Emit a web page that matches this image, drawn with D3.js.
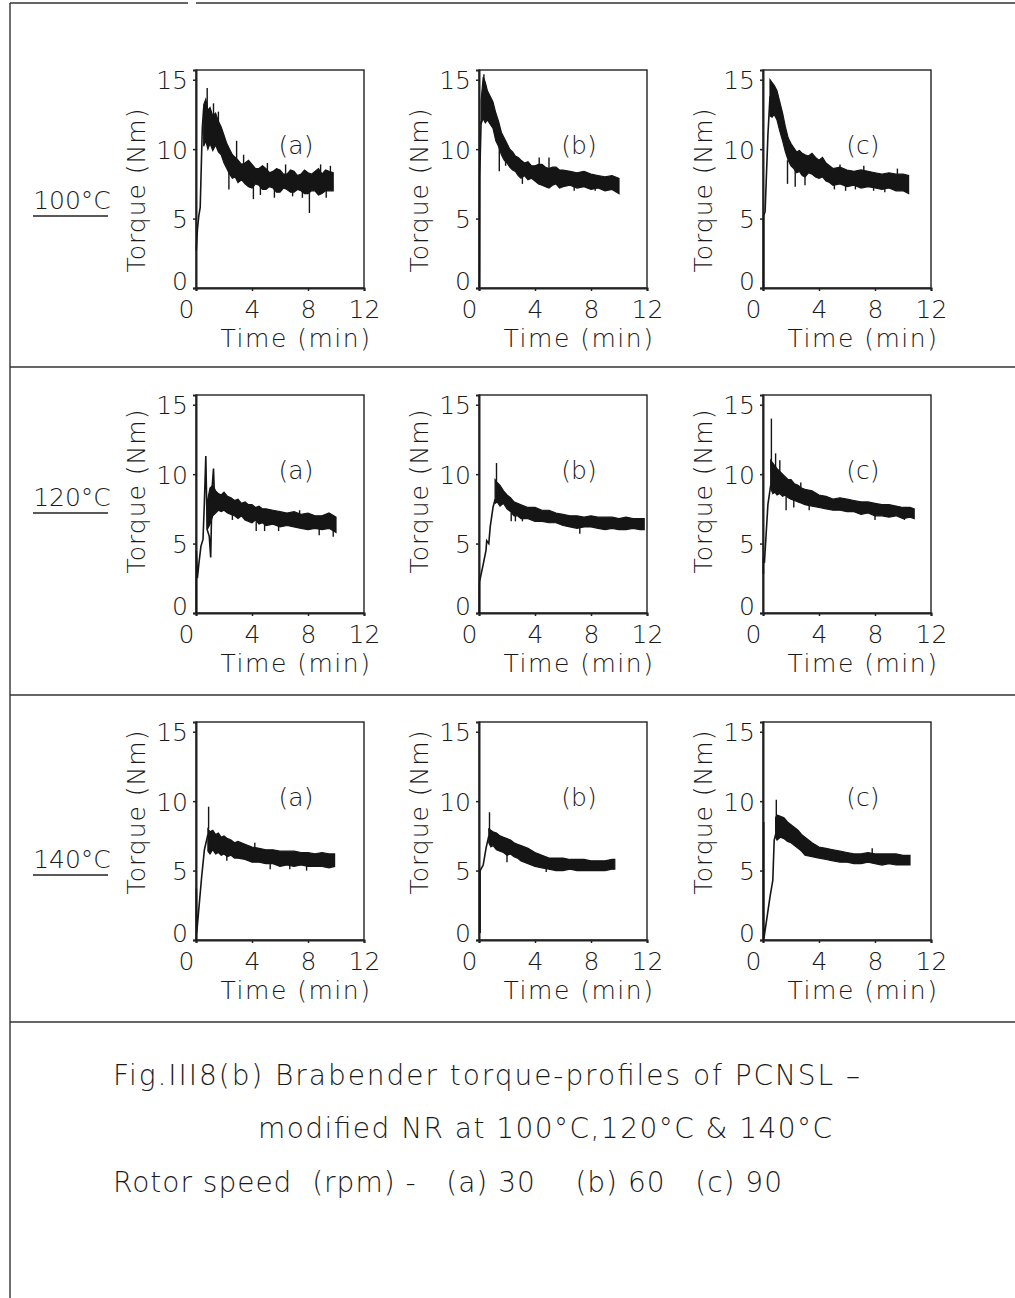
<!DOCTYPE html>
<html>
<head>
  <script src="https://d3js.org/d3.v7.min.js"></script>
  <style>
    body { margin: 0; background: #fff; }
    svg text {
      font-family: "DejaVu Sans", sans-serif;
      font-weight: 200;
      fill: #1a1a1a;
    }
    .frame { fill: none; stroke: #222; stroke-width: 1.4; }
    .band { fill: #151515; stroke: #151515; stroke-width: 1.2; stroke-linejoin: miter; }
    .trace { fill: none; stroke: #151515; stroke-width: 1.6; }
    .spike { stroke: #151515; stroke-width: 1.4; }
    .rule { stroke: #333; stroke-width: 1.4; }
  </style>
</head>
<body>
  <div id="chart"></div>
  <script>
    // ---- data ----
    var temps = ["100°C", "120°C", "140°C"];
    var speeds = ["(a)", "(b)", "(c)"];
    var xTicks = [0, 4, 8, 12];
    var yTicks = [0, 5, 10, 15];
    var xTitle = "Time (min)";
    var yTitle = "Torque (Nm)";
    var caption = [
      "Fig.III8(b) Brabender torque-profiles of PCNSL \u2013",
      "modified NR at 100°C,120°C & 140°C",
      "Rotor speed  (rpm) -   (a) 30    (b) 60   (c) 90"
    ];

    // 100 °C
    var rise100a = [[0.02, 2.7], [0.1, 4.2], [0.2, 5.2], [0.3, 5.8], [0.45, 11.5], [0.55, 13.0]];
    var t100a  = [0.55, 0.7, 0.85, 1.0, 1.2, 1.4, 1.6, 1.8, 2.0, 2.2, 2.4, 2.6, 2.8, 3.0, 3.25, 3.5, 3.75, 4.0, 4.25, 4.5, 4.75, 5.0, 5.25, 5.5, 5.75, 6.0, 6.25, 6.5, 6.75, 7.0, 7.25, 7.5, 7.75, 8.0, 8.25, 8.5, 8.75, 9.0, 9.25, 9.5, 9.8];
    var lo100a = [10.2, 10.6, 10.0, 10.4, 9.9, 10.3, 9.8, 9.6, 9.0, 8.6, 8.2, 7.9, 8.0, 7.6, 7.8, 7.5, 7.3, 7.2, 7.5, 7.4, 7.1, 7.1, 7.3, 7.2, 6.9, 6.9, 7.2, 7.1, 6.9, 6.9, 7.1, 7.0, 6.8, 6.8, 7.0, 7.0, 6.7, 6.8, 7.0, 7.0, 7.0];
    var hi100a = [13.2, 13.6, 12.8, 13.0, 12.4, 12.6, 12.0, 11.6, 11.0, 10.4, 10.0, 9.6, 9.4, 9.2, 8.9, 9.0, 9.2, 8.9, 8.6, 8.6, 8.8, 8.6, 8.3, 8.4, 8.6, 8.5, 8.2, 8.2, 8.5, 8.4, 8.1, 8.2, 8.5, 8.3, 8.2, 8.4, 8.6, 8.2, 8.5, 8.4, 8.3];
    var spk100a = [[0.8, 13, 14.4], [1.25, 12, 13.3], [1.6, 11, 12.7], [2.35, 8.5, 7.1], [2.9, 9, 10.6], [3.4, 8.5, 9.6], [4.1, 7.5, 6.4], [4.6, 7.5, 6.7], [5.1, 8, 9.0], [5.6, 7.5, 6.5], [6.4, 8, 8.9], [6.9, 7.4, 6.6], [7.6, 7.2, 6.5], [8.1, 7.2, 5.4], [8.9, 8, 8.9], [9.3, 7.2, 6.5], [9.6, 8, 8.8]];

    var rise100b = [[0.03, 0], [0.05, 8.0], [0.15, 12.0]];
    var t100b  = [0.15, 0.3, 0.45, 0.6, 0.8, 1.0, 1.2, 1.4, 1.6, 1.8, 2.0, 2.2, 2.4, 2.6, 2.8, 3.0, 3.25, 3.5, 3.75, 4.0, 4.25, 4.5, 4.75, 5.0, 5.25, 5.5, 5.75, 6.0, 6.5, 7.0, 7.5, 8.0, 8.5, 9.0, 9.5, 10.0];
    var lo100b = [11.8, 12.2, 11.9, 12.1, 11.8, 11.5, 10.6, 10.2, 9.6, 9.2, 9.0, 8.7, 8.5, 8.4, 8.1, 7.9, 8.1, 7.8, 7.9, 7.7, 7.5, 7.4, 7.3, 7.2, 7.4, 7.5, 7.2, 7.3, 7.4, 7.2, 7.3, 7.1, 7.2, 7.0, 7.1, 6.8];
    var hi100b = [13.5, 15.2, 14.8, 14.2, 13.8, 13.4, 12.6, 12.0, 11.2, 10.8, 10.4, 10.0, 9.8, 9.5, 9.4, 9.2, 9.0, 9.1, 8.8, 8.8, 8.9, 8.9, 8.7, 8.6, 8.7, 8.7, 8.5, 8.5, 8.4, 8.3, 8.4, 8.2, 8.1, 8.0, 8.1, 7.9];
    var spk100b = [[0.35, 14, 15.4], [1.45, 10.5, 8.4], [1.9, 10, 8.8], [3.1, 8.3, 7.5], [4.3, 8.5, 9.4], [5.0, 8.4, 9.4], [6.8, 7.6, 7.0], [8.3, 7.6, 7.0]];

    var rise100c = [[0.05, 0], [0.05, 5.2], [0.15, 5.5], [0.35, 11.0], [0.5, 13.8]];
    var t100c  = [0.5, 0.65, 0.8, 1.0, 1.2, 1.4, 1.6, 1.8, 2.0, 2.2, 2.4, 2.6, 2.8, 3.0, 3.25, 3.5, 3.75, 4.0, 4.25, 4.5, 4.75, 5.0, 5.5, 6.0, 6.5, 7.0, 7.5, 8.0, 8.5, 9.0, 9.5, 10.0, 10.4];
    var lo100c = [12.4, 12.3, 12.5, 12.1, 11.3, 10.6, 9.8, 9.2, 8.8, 8.6, 8.3, 8.4, 8.1, 8.0, 8.3, 8.2, 8.0, 7.9, 8.0, 7.7, 7.6, 7.4, 7.5, 7.3, 7.4, 7.2, 7.3, 7.2, 7.1, 7.2, 7.0, 7.0, 6.8];
    var hi100c = [15.0, 14.8, 14.6, 14.2, 13.4, 12.6, 11.6, 10.8, 10.4, 10.1, 9.8, 9.9, 9.7, 9.6, 9.5, 9.7, 9.4, 9.2, 9.4, 9.0, 8.8, 8.6, 8.7, 8.5, 8.4, 8.5, 8.4, 8.3, 8.2, 8.3, 8.2, 8.2, 8.1];
    var spk100c = [[1.75, 9.2, 7.5], [2.3, 8.6, 7.3], [3.0, 8, 7.4], [5.1, 7.5, 7.1], [5.5, 8.4, 8.9], [5.9, 7.4, 7.0], [6.6, 7.4, 7.1], [7.2, 8.3, 8.8], [7.9, 7.3, 7.0], [8.7, 7.2, 6.9], [9.6, 8.1, 8.6]];

    // 120 °C
    var rise120a = [[0.03, 0], [0.03, 4.5], [0.1, 2.5], [0.2, 3.5], [0.35, 4.8], [0.5, 5.3], [0.6, 8.0], [0.7, 11.3], [0.8, 6.0], [0.95, 5.5], [1.05, 4.0], [1.15, 9.0], [1.25, 10.4], [1.35, 7.5]];
    var t120a  = [0.8, 1.0, 1.2, 1.4, 1.6, 1.8, 2.0, 2.25, 2.5, 2.75, 3.0, 3.25, 3.5, 3.75, 4.0, 4.25, 4.5, 4.75, 5.0, 5.5, 6.0, 6.5, 7.0, 7.5, 8.0, 8.5, 9.0, 9.5, 10.0];
    var lo120a = [6.0, 6.4, 7.0, 7.2, 7.4, 7.3, 7.4, 7.2, 7.1, 7.0, 6.8, 7.0, 6.7, 6.6, 6.5, 6.7, 6.4, 6.5, 6.3, 6.4, 6.2, 6.3, 6.2, 6.1, 6.0, 6.1, 6.0, 6.1, 5.8];
    var hi120a = [8.0, 9.0, 9.2, 8.8, 8.6, 8.5, 8.7, 8.4, 8.3, 8.1, 8.2, 7.9, 8.0, 7.8, 7.8, 7.6, 7.7, 7.5, 7.5, 7.4, 7.3, 7.2, 7.3, 7.1, 7.2, 7.0, 7.0, 7.2, 6.9];
    var spk120a = [[2.6, 7.2, 6.7], [4.3, 6.6, 5.9], [4.9, 6.5, 5.9], [5.9, 6.4, 5.9], [7.4, 7.0, 7.4], [8.8, 6.2, 5.6], [9.8, 6.0, 5.5]];

    var rise120b = [[0.03, 0], [0.03, 2.2], [0.3, 3.5], [0.5, 4.5], [0.55, 5.2], [0.7, 5.0], [0.8, 6.2], [1.0, 7.6], [1.15, 8.2]];
    var t120b  = [1.15, 1.3, 1.5, 1.75, 2.0, 2.25, 2.5, 2.75, 3.0, 3.5, 4.0, 4.5, 5.0, 5.5, 6.0, 6.5, 7.0, 7.5, 8.0, 8.5, 9.0, 9.5, 10.0, 10.5, 11.0, 11.5, 11.8];
    var lo120b = [7.9, 8.0, 7.7, 7.9, 7.5, 7.3, 7.0, 7.0, 6.8, 6.8, 6.6, 6.6, 6.5, 6.5, 6.3, 6.2, 6.1, 6.2, 6.2, 6.1, 6.0, 6.1, 6.0, 6.0, 6.1, 6.0, 6.0];
    var hi120b = [9.6, 9.4, 9.2, 8.8, 8.5, 8.3, 8.0, 7.9, 7.8, 7.6, 7.6, 7.4, 7.4, 7.2, 7.1, 7.0, 7.0, 6.9, 7.0, 6.9, 6.9, 6.9, 6.8, 6.9, 6.8, 6.8, 6.8];
    var spk120b = [[1.25, 9.5, 10.8], [2.3, 7.2, 6.6], [2.6, 7.0, 6.6], [3.1, 7.0, 6.6], [7.2, 6.2, 5.7]];

    var rise120c = [[0.03, 2.8], [0.03, 4.0], [0.1, 3.6], [0.35, 7.8], [0.55, 9.2]];
    var t120c  = [0.55, 0.7, 0.85, 1.0, 1.2, 1.4, 1.6, 1.8, 2.0, 2.25, 2.5, 2.75, 3.0, 3.5, 4.0, 4.5, 5.0, 5.5, 6.0, 6.5, 7.0, 7.5, 8.0, 8.5, 9.0, 9.5, 10.0, 10.5, 10.8];
    var lo120c = [9.0, 8.6, 8.7, 8.5, 8.6, 8.4, 8.5, 8.3, 8.2, 8.1, 8.0, 7.9, 7.8, 7.7, 7.6, 7.5, 7.4, 7.4, 7.3, 7.3, 7.1, 7.2, 7.0, 7.0, 6.9, 7.0, 6.8, 6.9, 6.8];
    var hi120c = [11.0, 10.8, 10.6, 10.4, 10.2, 10.0, 9.8, 9.6, 9.6, 9.3, 9.2, 9.0, 8.9, 8.8, 8.5, 8.4, 8.2, 8.3, 8.2, 8.1, 8.0, 8.0, 7.9, 7.8, 7.8, 7.7, 7.6, 7.6, 7.5];
    var spk120c = [[0.6, 10, 14.0], [0.9, 10, 11.5], [1.2, 9.8, 11.0], [1.65, 8.5, 7.4], [2.2, 8.3, 7.6], [2.7, 8.9, 9.4], [3.3, 7.9, 7.4], [8.0, 7.1, 6.7], [10.1, 7.0, 6.7]];

    // 140 °C
    var rise140a = [[0.03, 0], [0.03, 3.7], [0.05, 0.5], [0.4, 4.5], [0.6, 6.5], [0.85, 7.6]];
    var t140a  = [0.85, 1.0, 1.2, 1.4, 1.6, 1.8, 2.0, 2.25, 2.5, 2.75, 3.0, 3.5, 4.0, 4.5, 5.0, 5.5, 6.0, 6.5, 7.0, 7.5, 8.0, 8.5, 9.0, 9.5, 9.9];
    var lo140a = [6.4, 6.2, 6.5, 6.2, 6.3, 6.1, 6.2, 6.0, 6.1, 5.9, 5.9, 5.8, 5.6, 5.6, 5.5, 5.5, 5.3, 5.4, 5.3, 5.4, 5.3, 5.3, 5.3, 5.2, 5.3];
    var hi140a = [8.0, 7.8, 7.9, 7.6, 7.7, 7.4, 7.5, 7.3, 7.2, 7.0, 7.1, 6.9, 6.7, 6.6, 6.5, 6.5, 6.4, 6.4, 6.4, 6.3, 6.3, 6.2, 6.3, 6.2, 6.2];
    var spk140a = [[0.9, 8, 9.6], [2.2, 6.4, 5.7], [4.2, 6.6, 7.0], [5.3, 5.6, 5.1], [6.7, 5.5, 5.1], [7.9, 5.4, 5.0]];

    var rise140b = [[0.08, 0.5], [0.08, 5.0], [0.3, 5.4], [0.5, 6.6], [0.7, 7.5]];
    var t140b  = [0.7, 0.85, 1.0, 1.25, 1.5, 1.75, 2.0, 2.25, 2.5, 2.75, 3.0, 3.5, 4.0, 4.5, 5.0, 5.5, 6.0, 6.5, 7.0, 7.5, 8.0, 8.5, 9.0, 9.5, 9.7];
    var lo140b = [7.0, 6.7, 6.8, 6.5, 6.4, 6.3, 6.1, 6.2, 6.0, 5.9, 5.7, 5.5, 5.3, 5.2, 5.1, 5.0, 5.0, 5.1, 5.0, 5.0, 5.0, 5.0, 5.0, 5.1, 5.1];
    var hi140b = [8.0, 7.9, 7.8, 7.7, 7.5, 7.4, 7.3, 7.2, 7.0, 6.9, 6.8, 6.6, 6.3, 6.1, 5.9, 5.9, 5.9, 5.8, 5.8, 5.8, 5.7, 5.7, 5.7, 5.8, 5.8];
    var spk140b = [[0.75, 7.8, 9.2], [2.0, 6.2, 5.6], [4.8, 5.2, 4.9]];

    var rise140c = [[0.05, 8.5], [0.05, 0], [0.5, 3.1], [0.7, 4.3], [0.8, 7.2], [0.9, 7.6]];
    var t140c  = [0.9, 1.0, 1.25, 1.5, 1.75, 2.0, 2.25, 2.5, 2.75, 3.0, 3.5, 4.0, 4.5, 5.0, 5.5, 6.0, 6.5, 7.0, 7.5, 8.0, 8.5, 9.0, 9.5, 10.0, 10.5];
    var lo140c = [7.4, 7.2, 7.4, 7.3, 7.1, 7.0, 6.8, 6.6, 6.4, 6.1, 6.0, 5.9, 5.8, 5.7, 5.6, 5.6, 5.5, 5.5, 5.6, 5.5, 5.4, 5.5, 5.4, 5.4, 5.4];
    var hi140c = [8.8, 9.0, 8.9, 8.8, 8.5, 8.3, 8.1, 7.9, 7.6, 7.4, 7.0, 6.7, 6.6, 6.5, 6.4, 6.3, 6.2, 6.2, 6.3, 6.2, 6.2, 6.2, 6.2, 6.1, 6.1];
    var spk140c = [[0.95, 8.5, 10.1], [7.8, 6.2, 6.6]];

    var panels = [
      [rise100a, t100a, lo100a, hi100a, spk100a],
      [rise100b, t100b, lo100b, hi100b, spk100b],
      [rise100c, t100c, lo100c, hi100c, spk100c],
      [rise120a, t120a, lo120a, hi120a, spk120a],
      [rise120b, t120b, lo120b, hi120b, spk120b],
      [rise120c, t120c, lo120c, hi120c, spk120c],
      [rise140a, t140a, lo140a, hi140a, spk140a],
      [rise140b, t140b, lo140b, hi140b, spk140b],
      [rise140c, t140c, lo140c, hi140c, spk140c]
    ];

    // ---- layout ----
    var W = 1015, H = 1298;
    var colX = [196, 479, 763];
    var rowY = [70, 395, 722];
    var pw = 168, ph = 218;
    var yTitleOff = [120, 96, 90];     // vertical centre of the y title below frame top
    var tempLabelY = [200, 497, 859];
    var ruleY = [367, 695, 1022];

    var svg = d3.select("#chart").append("svg")
      .attr("width", W)
      .attr("height", H);

    // page border lines
    svg.append("line").attr("class", "rule").attr("x1", 10).attr("x2", 188).attr("y1", 3).attr("y2", 3);
    svg.append("line").attr("class", "rule").attr("x1", 196).attr("x2", W).attr("y1", 3).attr("y2", 3);
    svg.append("line").attr("class", "rule").attr("x1", 10).attr("x2", 10).attr("y1", 3).attr("y2", H);
    ruleY.forEach(function(y) {
      svg.append("line").attr("class", "rule").attr("x1", 10).attr("x2", W).attr("y1", y).attr("y2", y);
    });

    // temperature labels, underlined
    temps.forEach(function(t, i) {
      svg.append("text")
        .attr("x", 72).attr("y", tempLabelY[i] + 9)
        .attr("text-anchor", "middle")
        .style("font-size", "25px")
        .text(t);
      svg.append("line")
        .attr("x1", 33).attr("x2", 108)
        .attr("y1", tempLabelY[i] + 16).attr("y2", tempLabelY[i] + 16)
        .attr("stroke", "#222").attr("stroke-width", 1.5);
    });

    panels.forEach(function(p, k) {
      var r = Math.floor(k / 3), c = k % 3;
      var left = colX[c], top = rowY[r];
      var g = svg.append("g");

      var x = d3.scaleLinear().domain([0, 12]).range([left, left + pw]);
      var y = d3.scaleLinear().domain([0, 15.7]).range([top + ph, top]);

      g.append("rect").attr("class", "frame")
        .attr("x", left).attr("y", top).attr("width", pw).attr("height", ph);

      // axes: ticks only, labels styled below
      var yAxis = g.append("g")
        .attr("transform", "translate(" + left + ",0)")
        .call(d3.axisLeft(y).tickValues(yTicks).tickSize(3).tickPadding(5));
      var xAxis = g.append("g")
        .attr("transform", "translate(0," + (top + ph) + ")")
        .call(d3.axisBottom(x).tickValues(xTicks).tickSize(3).tickPadding(9));
      [xAxis, yAxis].forEach(function(a) {
        a.select(".domain").attr("stroke", "#222").attr("stroke-width", 2);
        a.selectAll(".tick line").attr("stroke", "#222").attr("stroke-width", 1.5);
        a.selectAll("text")
          .style("font-size", "25px")
          .style("font-family", "'DejaVu Sans', sans-serif")
          .style("font-weight", 200)
          .attr("fill", "#1a1a1a");
      });
      // the zero label sits a little above its tick, as in the original
      yAxis.selectAll("text")
        .attr("dy", function(d) { return d === 0 ? "0.06em" : "0.36em"; });
      xAxis.selectAll("text").attr("dy", "0.72em")
        .attr("dx", function(d) { return d === 0 ? -10 : 0; });

      // noisy torque band
      var band = p[1].map(function(t, i) { return [t, p[2][i], p[3][i]]; });
      g.append("path").datum(band).attr("class", "band")
        .attr("d", d3.area()
          .x(function(d) { return x(d[0]); })
          .y0(function(d) { return y(d[1]); })
          .y1(function(d) { return y(d[2]); }));

      // loading / fusion rise
      g.append("path").datum(p[0]).attr("class", "trace")
        .attr("d", d3.line()
          .x(function(d) { return x(d[0]); })
          .y(function(d) { return y(d[1]); }));

      // spikes
      g.selectAll(".spike").data(p[4]).enter().append("line")
        .attr("class", "spike")
        .attr("x1", function(d) { return x(d[0]); })
        .attr("x2", function(d) { return x(d[0]); })
        .attr("y1", function(d) { return y(d[1]); })
        .attr("y2", function(d) { return y(d[2]); });

      // panel letter
      g.append("text")
        .attr("x", left + 100).attr("y", top + 75 + 9)
        .attr("text-anchor", "middle")
        .style("font-size", "25px")
        .text(speeds[c]);

      // axis titles
      g.append("text")
        .attr("x", left + pw / 2 + 16).attr("y", top + ph + 50 + 9)
        .attr("text-anchor", "middle")
        .style("font-size", "25px")
        .style("letter-spacing", "1.5px")
        .text(xTitle);
      g.append("text")
        .attr("transform", "translate(" + (left - 60) + "," + (top + yTitleOff[r]) + ") rotate(-90)")
        .attr("text-anchor", "middle")
        .attr("dy", "0.36em")
        .style("font-size", "25px")
        .style("letter-spacing", "1px")
        .text(yTitle);
    });

    // caption
    var capX = [113, 258, 113], capY = [1075, 1128, 1182], capW = [747, 574, 669];
    caption.forEach(function(line, i) {
      svg.append("text")
        .attr("x", capX[i]).attr("y", capY[i] + 10)
        .attr("textLength", capW[i])
        .attr("lengthAdjust", "spacing")
        .style("font-size", "28px")
        .style("white-space", "pre")
        .text(line);
    });
  </script>
</body>
</html>
